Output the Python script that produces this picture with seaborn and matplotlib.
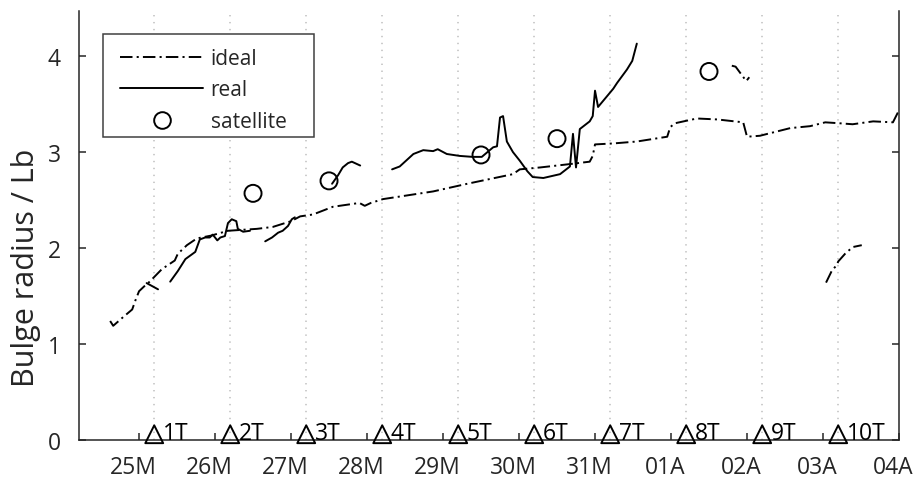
import numpy as np
import pandas as pd
import matplotlib
matplotlib.use("Agg")
import matplotlib.pyplot as plt
import matplotlib.transforms as mtransforms
from matplotlib.lines import Line2D
from matplotlib.patches import Rectangle
import seaborn as sns

# ---------------- data ----------------
day_ticks = [25, 26, 27, 28, 29, 30, 31, 32, 33, 34, 35]
day_labels = ["25M", "26M", "27M", "28M", "29M", "30M", "31M", "01A", "02A", "03A", "04A"]

event_x = [25.2, 26.2, 27.2, 28.2, 29.2, 30.2, 31.2, 32.2, 33.2, 34.2]
event_labels = ["1T", "2T", "3T", "4T", "5T", "6T", "7T", "8T", "9T", "10T"]
event_y = [0.06] * 10

# ideal (dash-dot) main curve
ideal_main_x = [24.62, 24.66, 24.79, 24.91, 24.95, 25.0, 25.08, 25.14, 25.3, 25.47, 25.51,
                25.63, 25.76, 25.95, 26.17, 26.55, 26.76, 27.0, 27.12, 27.29, 27.55, 27.9,
                27.97, 28.05, 28.21, 28.87, 29.32, 29.92, 30.01, 30.28, 30.67, 30.93, 30.97,
                31.0, 31.24, 31.55, 31.95, 31.99, 32.05, 32.34, 32.61, 32.95, 33.0, 33.17,
                33.57, 33.83, 34.03, 34.22, 34.39, 34.66, 34.92, 34.99]
ideal_main_y = [1.24, 1.19, 1.28, 1.36, 1.45, 1.55, 1.61, 1.65, 1.78, 1.87, 1.94,
                2.03, 2.10, 2.13, 2.18, 2.20, 2.22, 2.28, 2.33, 2.35, 2.43, 2.47,
                2.44, 2.47, 2.51, 2.59, 2.67, 2.77, 2.82, 2.84, 2.875, 2.90, 2.96,
                3.08, 3.09, 3.11, 3.16, 3.26, 3.30, 3.35, 3.34, 3.31, 3.16, 3.17,
                3.25, 3.27, 3.31, 3.30, 3.29, 3.32, 3.31, 3.42]
# ideal short branches
ideal_b1_x = [32.80, 32.85, 32.99, 33.03]
ideal_b1_y = [3.90, 3.89, 3.74, 3.78]
ideal_b2_x = [34.04, 34.12, 34.18, 34.20, 34.29, 34.39, 34.51]
ideal_b2_y = [1.64, 1.77, 1.82, 1.86, 1.94, 2.01, 2.03]

# real (solid) segments
real_s1_x = [25.10, 25.25]
real_s1_y = [1.635, 1.57]
real_s2_x = [25.41, 25.51, 25.61, 25.74, 25.80, 25.87, 25.93, 25.97, 26.03, 26.07, 26.13,
             26.17, 26.22, 26.28, 26.30, 26.37, 26.46]
real_s2_y = [1.65, 1.76, 1.885, 1.96, 2.09, 2.11, 2.11, 2.14, 2.08, 2.11, 2.125,
             2.26, 2.30, 2.28, 2.20, 2.17, 2.18]
real_s3_x = [26.66, 26.75, 26.83, 26.89, 26.96, 27.01, 27.05]
real_s3_y = [2.07, 2.11, 2.16, 2.18, 2.23, 2.30, 2.32]
real_s4_x = [27.54, 27.62, 27.68, 27.75, 27.80, 27.91]
real_s4_y = [2.67, 2.76, 2.84, 2.885, 2.90, 2.86]
real_s5_x = [28.33, 28.43, 28.61, 28.74, 28.87, 28.93, 29.05, 29.22, 29.39, 29.51, 29.66,
             29.71, 29.75, 29.79, 29.84, 29.92, 30.01, 30.11, 30.18, 30.32, 30.54, 30.67,
             30.71, 30.75, 30.80, 30.93, 30.97, 31.0, 31.04, 31.24, 31.29, 31.42, 31.49, 31.55]
real_s5_y = [2.82, 2.85, 2.98, 3.02, 3.01, 3.03, 2.98, 2.96, 2.95, 2.95, 3.05,
             3.06, 3.36, 3.375, 3.11, 3.00, 2.91, 2.80, 2.74, 2.73, 2.77, 2.85,
             3.19, 2.84, 3.24, 3.32, 3.375, 3.64, 3.47, 3.66, 3.72, 3.86, 3.95, 4.13]

satellite_x = [26.5, 27.5, 29.5, 30.5, 32.5]
satellite_y = [2.57, 2.70, 2.97, 3.14, 3.84]

# ---------------- frames ----------------
def segs(pairs):
    frames = []
    for i, (xs, ys) in enumerate(pairs):
        frames.append(pd.DataFrame({"x": xs, "y": ys, "seg": i}))
    return pd.concat(frames, ignore_index=True)

ideal_df = segs([(ideal_main_x, ideal_main_y), (ideal_b1_x, ideal_b1_y), (ideal_b2_x, ideal_b2_y)])
real_df = segs([(real_s1_x, real_s1_y), (real_s2_x, real_s2_y), (real_s3_x, real_s3_y),
                (real_s4_x, real_s4_y), (real_s5_x, real_s5_y)])
sat_df = pd.DataFrame({"x": satellite_x, "y": satellite_y})
ev_df = pd.DataFrame({"x": event_x, "y": event_y})

# ---------------- style ----------------
sns.set_style("ticks")
plt.rcParams["font.family"] = ["Open Sans", "DejaVu Sans"]
plt.rcParams["lines.scale_dashes"] = False
axcol = "#262626"

fig = plt.figure(figsize=(9.17, 4.81), dpi=100)
ax = fig.add_axes([79 / 917, 1 - 441 / 481, 820 / 917, 429 / 481])

dashdot = (0, (9, 3, 1.5, 3))
sns.lineplot(data=ideal_df, x="x", y="y", units="seg", estimator=None, sort=False,
             color="k", linewidth=1.4, linestyle=dashdot, ax=ax)
sns.lineplot(data=real_df, x="x", y="y", units="seg", estimator=None, sort=False,
             color="k", linewidth=1.4, linestyle="-", ax=ax)
sns.scatterplot(data=sat_df, x="x", y="y", marker="o", s=150, facecolor="none",
                edgecolor="k", linewidth=1.4, ax=ax, zorder=3)
sns.scatterplot(data=ev_df, x="x", y="y", marker="^", s=165, facecolor="none",
                edgecolor="k", linewidth=1.4, ax=ax, zorder=4, clip_on=False)
for xv, lab in zip(event_x, event_labels):
    ax.annotate(lab, xy=(xv, 0), xytext=(6, 1), textcoords="offset points",
                ha="left", va="baseline", fontsize=16.5, color="k", annotation_clip=False)

ax.set_xlim(24.21, 35.0)
ax.set_ylim(0, 4.47)
ax.set_xticks(day_ticks)
ax.set_xticklabels(day_labels)
ax.set_yticks([0, 1, 2, 3, 4])
ax.set_xticks(event_x, minor=True)
ax.grid(which="minor", axis="x", linestyle=(0, (1, 4)), color="#c8c8c8", linewidth=1.3)
ax.tick_params(which="minor", length=0)
ax.tick_params(which="major", direction="in", length=5, width=1.1, colors=axcol,
               labelsize=16.5, right=True, top=False, pad=13)
ax.tick_params(axis="x", which="major", pad=11)
shift = mtransforms.ScaledTranslation(-6 / 100, 0, fig.dpi_scale_trans)
for lbl in ax.get_xticklabels():
    lbl.set_transform(lbl.get_transform() + shift)
ax.set_xlabel("")
ax.set_ylabel("Bulge radius / Lb", fontsize=22, color=axcol)
ax.yaxis.set_label_coords((41 - 79) / 820, (441 - 268) / 429)

for side in ["left", "bottom", "right"]:
    ax.spines[side].set_visible(True)
    ax.spines[side].set_color(axcol)
    ax.spines[side].set_linewidth(1.1)
ax.spines["top"].set_visible(False)

# legend frame + entries
frame = Rectangle(((103 - 79) / 820, 1 - (138 - 12) / 429), (314 - 103) / 820, (138 - 35) / 429,
                  transform=ax.transAxes, facecolor="white", edgecolor="#404040",
                  linewidth=1.1, zorder=5)
ax.add_patch(frame)
handles = [
    Line2D([], [], color="k", lw=1.4, linestyle=dashdot),
    Line2D([], [], color="k", lw=1.4, linestyle="-"),
    Line2D([], [], color="k", lw=0, marker="o", markersize=12, markerfacecolor="none",
           markeredgewidth=1.4),
]
leg = ax.legend(handles, ["ideal", "real", "satellite"], loc="upper left",
                bbox_to_anchor=((120 - 79) / 820, 1 - (49 - 12) / 429), borderaxespad=0,
                fontsize=15, handlelength=4.0, handletextpad=0.35, labelspacing=0.5,
                frameon=False, borderpad=0)
leg.set_zorder(6)

fig.savefig("out.png", dpi=100)
